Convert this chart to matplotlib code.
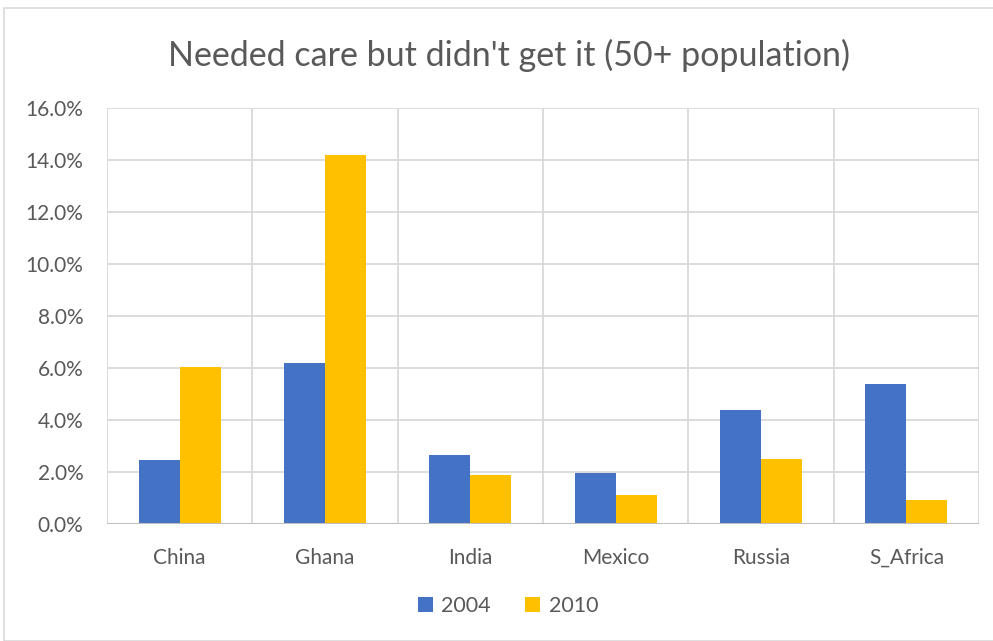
import numpy as np
import matplotlib.pyplot as plt
from matplotlib.patches import Rectangle
from matplotlib.ticker import PercentFormatter

countries = ["China", "Ghana", "India", "Mexico", "Russia", "S_Africa"]
years = ["2004", "2010"]
vals_2004 = [2.47, 6.18, 2.66, 1.95, 4.39, 5.40]
vals_2010 = [6.02, 14.21, 1.90, 1.10, 2.51, 0.94]

BLUE = "#4472C4"
GOLD = "#FFC000"
GRID = "#D9D9D9"
TXT = "#595959"

plt.rcParams['font.family'] = ['Lato', 'DejaVu Sans']

fig = plt.figure(figsize=(9.93, 6.41), dpi=100)
ax = fig.add_axes([107 / 993, 1 - 524 / 641, 872 / 993, 416 / 641])

x = np.arange(len(countries))
w = 0.283
ax.bar(x - w / 2, vals_2004, w, color=BLUE, label=years[0], zorder=3)
ax.bar(x + w / 2, vals_2010, w, color=GOLD, label=years[1], zorder=3)

ax.set_xlim(-0.5, len(countries) - 0.5)
ax.set_ylim(0, 16)
ax.set_yticks(np.arange(0, 17, 2))
ax.yaxis.set_major_formatter(PercentFormatter(decimals=1))
ax.set_xticks(x)
ax.set_xticklabels(countries)

# vertical gridlines at category boundaries
for b in np.arange(-0.5, len(countries) + 0.5, 1):
    ax.axvline(b, color=GRID, lw=1.3, zorder=1)
ax.grid(axis='y', color=GRID, lw=1.3, zorder=1)

for s in ax.spines.values():
    s.set_visible(False)
ax.axhline(0, color="#BFBFBF", lw=1.5, zorder=4)
ax.tick_params(length=0, colors=TXT, labelsize=15)
ax.tick_params(axis='x', pad=17)
ax.tick_params(axis='y', pad=17)

fig.text(509 / 993, 1 - 55 / 641, "Needed care but didn't get it (50+ population)",
         ha='center', va='center', fontsize=24.5, color=TXT)

fig.legend(loc='center', bbox_to_anchor=(508 / 993, 1 - 606 / 641), ncol=2,
           frameon=False, fontsize=15.5, labelcolor=TXT, handlelength=0.7,
           handleheight=0.7, columnspacing=1.6, handletextpad=0.4)

fig.add_artist(Rectangle((4 / 993, 0), 1, 1 - 8 / 641, transform=fig.transFigure,
                         fill=False, edgecolor=GRID, lw=1.2))

fig.savefig("out.png", dpi=100)
